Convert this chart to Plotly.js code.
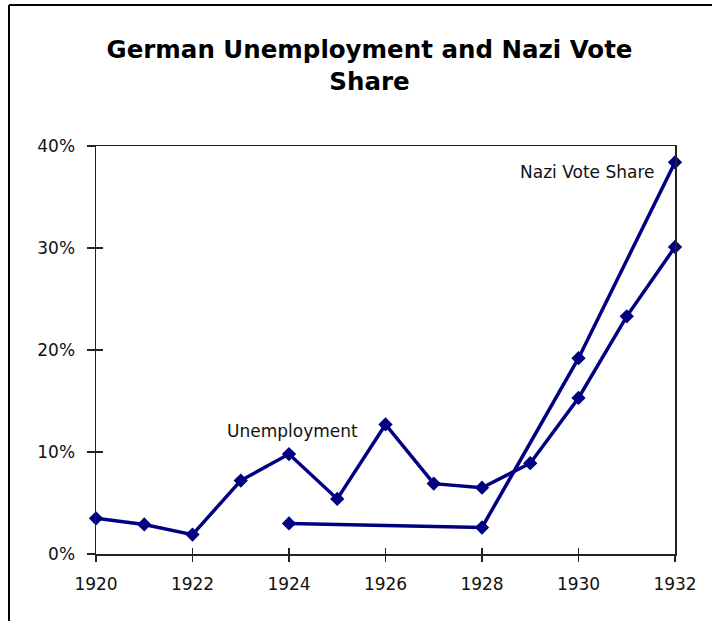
<!DOCTYPE html>
<html>
<head>
<meta charset="utf-8">
<script src="https://cdn.plot.ly/plotly-3.0.1.min.js"></script>
<style>
  html, body { margin: 0; padding: 0; background: #fff; }
  #chart { width: 712px; height: 621px; }
</style>
</head>
<body>
<div id="chart"></div>
<script>
// ---- data ----
const unempYears = [1920, 1921, 1922, 1923, 1924, 1925, 1926, 1927, 1928, 1929, 1930, 1931, 1932];
const unempRate  = [3.5, 2.9, 1.9, 7.2, 9.8, 5.4, 12.7, 6.9, 6.5, 8.9, 15.3, 23.3, 30.1];
const naziYears  = [1924, 1928, 1930, 1932];
const naziShare  = [3.0, 2.6, 19.2, 38.4];
const yTickVals  = [0, 10, 20, 30, 40];
const xTickVals  = [1920, 1922, 1924, 1926, 1928, 1930, 1932];
const labelTexts = ["Unemployment", "Nazi Vote Share"];
const labelX     = [1924.08, 1930.17];
const labelY     = [12.1, 37.5];

// ---- layout constants ----
const W = 712, H = 621;
const M = { l: 96, r: 37, t: 146, b: 67 };
const pw = W - M.l - M.r, ph = H - M.t - M.b;
const px2paperX = px => (px - M.l) / pw;
const px2paperY = py => (H - M.b - py) / ph;

const NAVY = '#000080';
const lineStyle = { color: NAVY, width: 3.5 };
const markerStyle = { symbol: 'diamond', size: 11, color: NAVY };

const traces = [
  { x: unempYears, y: unempRate, type: 'scatter', mode: 'lines+markers',
    line: lineStyle, marker: markerStyle, cliponaxis: false, hoverinfo: 'skip', showlegend: false },
  { x: naziYears, y: naziShare, type: 'scatter', mode: 'lines+markers',
    line: lineStyle, marker: markerStyle, cliponaxis: false, hoverinfo: 'skip', showlegend: false },
  // invisible helper trace so the overlay axes (inner tick halves) are drawn
  { x: [xTickVals[0]], y: [yTickVals[0]], xaxis: 'x2', yaxis: 'y2', type: 'scatter', mode: 'markers',
    marker: { opacity: 0, size: 1 }, hoverinfo: 'skip', showlegend: false }
];

const tickFont = { family: 'DejaVu Sans', size: 17, color: '#111' };

const layout = {
  width: W, height: H,
  margin: M,
  paper_bgcolor: '#fff', plot_bgcolor: '#fff',
  showlegend: false,
  title: {
    text: 'German Unemployment and Nazi Vote<br>Share',
    font: { family: 'DejaVu Sans', size: 24.5, color: '#000', weight: 'bold' },
    xref: 'container', yref: 'container',
    x: 369.5 / W, xanchor: 'center',
    y: 1 - 58 / H, yanchor: 'top'
  },
  xaxis: {
    range: [1920, 1932], tickvals: xTickVals, ticktext: xTickVals.map(String),
    showgrid: false, zeroline: false,
    showline: true, mirror: true, linecolor: '#222', linewidth: 1.5,
    ticks: 'outside', ticklen: 6, tickwidth: 1.5, tickcolor: '#222',
    tickfont: tickFont, ticklabelstandoff: 8
  },
  yaxis: {
    range: [0, 40], tickvals: yTickVals, ticktext: yTickVals.map(v => v + '%'),
    showgrid: false, zeroline: false,
    showline: true, mirror: true, linecolor: '#222', linewidth: 1.5,
    ticks: 'outside', ticklen: 8, tickwidth: 1.5, tickcolor: '#222',
    tickfont: tickFont, ticklabelstandoff: 8
  },
  xaxis2: {
    overlaying: 'x', anchor: 'y2', range: [1920, 1932], tickvals: xTickVals,
    showticklabels: false, showgrid: false, zeroline: false, showline: false,
    ticks: 'inside', ticklen: 6, tickwidth: 1.5, tickcolor: '#222', side: 'bottom'
  },
  yaxis2: {
    overlaying: 'y', anchor: 'x2', range: [0, 40], tickvals: yTickVals,
    showticklabels: false, showgrid: false, zeroline: false, showline: false,
    ticks: 'inside', ticklen: 7, tickwidth: 1.5, tickcolor: '#222', side: 'left'
  },
  annotations: labelTexts.map((t, i) => ({
    text: t, x: labelX[i], y: labelY[i], xref: 'x', yref: 'y',
    showarrow: false, xanchor: 'center', yanchor: 'middle',
    font: { family: 'DejaVu Sans', size: 17, color: '#111' }
  })),
  shapes: [
    { type: 'line', xref: 'paper', yref: 'paper',
      x0: px2paperX(9), x1: px2paperX(9), y0: px2paperY(5), y1: px2paperY(H + 2),
      line: { color: '#000', width: 2 } },
    { type: 'line', xref: 'paper', yref: 'paper',
      x0: px2paperX(9), x1: px2paperX(W + 2), y0: px2paperY(5), y1: px2paperY(5),
      line: { color: '#000', width: 2 } }
  ]
};

Plotly.newPlot('chart', traces, layout, { staticPlot: true, displayModeBar: false });
</script>
</body>
</html>
